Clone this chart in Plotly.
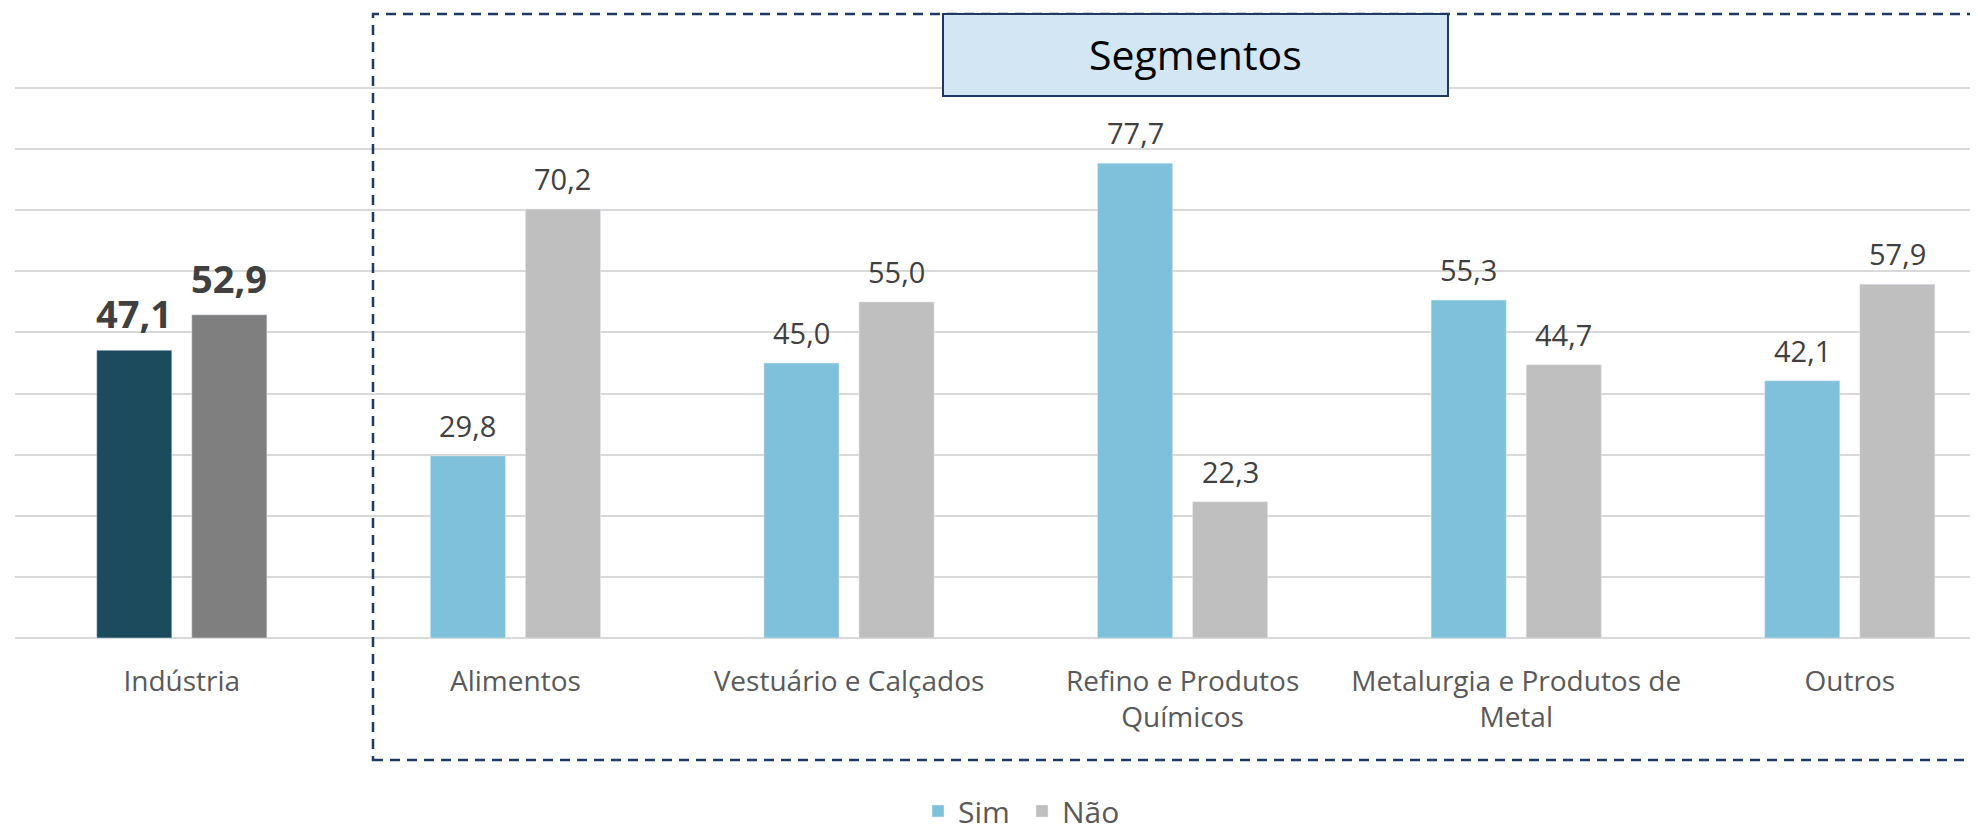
import plotly.graph_objects as go

categories = ["Indústria", "Alimentos", "Vestuário e Calçados",
              "Refino e Produtos<br>Químicos", "Metalurgia e Produtos de<br>Metal", "Outros"]
sim = [47.1, 29.8, 45.0, 77.7, 55.3, 42.1]
nao = [52.9, 70.2, 55.0, 22.3, 44.7, 57.9]
series_names = ["Sim", "Não"]
box_title = "Segmentos"

# The page body adds an 8px margin, so the figure is drawn 8px lower/right.
OFF = 8
W, H = 1978 - OFF, 832 - OFF
BASE = 638 - OFF            # pixel y of value 0
ML, MT = 15 - OFF, 85 - OFF
MR, MB = 0, H - BASE
PW, PH = W - ML - MR, H - MT - MB
CAT_PX = 333.6
YMAX = 90.5

def px_x(p):  # reference page pixel -> paper x
    return (p - OFF - ML) / PW

def px_y(p):  # reference page pixel -> paper y
    return (H - MB - (p - OFF)) / PH

def fmt(v):
    return f"{v:.1f}".replace(".", ",")

C_IND_SIM, C_IND_NAO = "#1D4B5E", "#7F7F7F"
C_SIM, C_NAO = "#7FC0DA", "#BFBFBF"
FONT = "Open Sans"

fig = go.Figure()
fig.add_bar(x=categories[:1], y=sim[:1], marker_color=C_IND_SIM, offsetgroup="sim",
            showlegend=False, name=series_names[0])
fig.add_bar(x=categories[:1], y=nao[:1], marker_color=C_IND_NAO, offsetgroup="nao",
            showlegend=False, name=series_names[1])
fig.add_bar(x=categories[1:], y=sim[1:], marker_color=C_SIM, offsetgroup="sim",
            name=series_names[0])
fig.add_bar(x=categories[1:], y=nao[1:], marker_color=C_NAO, offsetgroup="nao",
            name=series_names[1])

annotations = []
XOFF = 47.5
for i, c in enumerate(categories):
    bold = i == 0
    for v, sh in ((sim[i], -XOFF), (nao[i], XOFF)):
        annotations.append(dict(
            x=c, y=v, xref="x", yref="y", text=(f"<b>{fmt(v)}</b>" if bold else fmt(v)),
            showarrow=False, xshift=sh, yshift=(37 if bold else 30.5), yanchor="middle",
            font=dict(family=FONT, size=(38 if bold else 29), color="#404040")))

annotations.append(dict(
    x=px_x(1195), y=px_y(54), xref="paper", yref="paper", text=box_title,
    showarrow=False, xanchor="center", yanchor="middle",
    font=dict(family=FONT, size=41, color="#000000")))

shapes = [
    dict(type="rect", xref="paper", yref="paper",
         x0=px_x(373), x1=px_x(2060), y0=px_y(760), y1=px_y(14),
         line=dict(color="#1F3864", width=2.5, dash="10px,7px"), fillcolor="rgba(0,0,0,0)",
         layer="above"),
    dict(type="rect", xref="paper", yref="paper",
         x0=px_x(943), x1=px_x(1448), y0=px_y(96), y1=px_y(14),
         line=dict(color="#1F3864", width=2), fillcolor="#D2E6F4", layer="above"),
]

fig.update_layout(
    width=W, height=H,
    margin=dict(l=ML, r=MR, t=MT, b=MB, pad=0, autoexpand=False),
    paper_bgcolor="white", plot_bgcolor="white",
    barmode="group", bargap=0.43, bargroupgap=0.21,
    font=dict(family=FONT, size=28, color="#595959"),
    xaxis=dict(type="category", range=[-0.5, -0.5 + PW / CAT_PX], showgrid=False,
               zeroline=False, showline=False, ticks="", ticklabelstandoff=24,
               automargin=False,
               tickfont=dict(family=FONT, size=28, color="#595959")),
    yaxis=dict(range=[0, YMAX], dtick=10, showticklabels=False, gridcolor="#D9D9D9",
               gridwidth=1.5, zeroline=True, zerolinecolor="#D9D9D9", zerolinewidth=2,
               showline=False, automargin=False),
    legend=dict(orientation="h", xref="container", yref="container",
                x=(918 - OFF) / W, xanchor="left", y=1 - (811 - OFF) / H, yanchor="middle",
                font=dict(family=FONT, size=30, color="#595959"), itemwidth=30,
                entrywidth=59, bgcolor="rgba(0,0,0,0)"),
    annotations=annotations, shapes=shapes,
)

fig.write_html("out.html")
